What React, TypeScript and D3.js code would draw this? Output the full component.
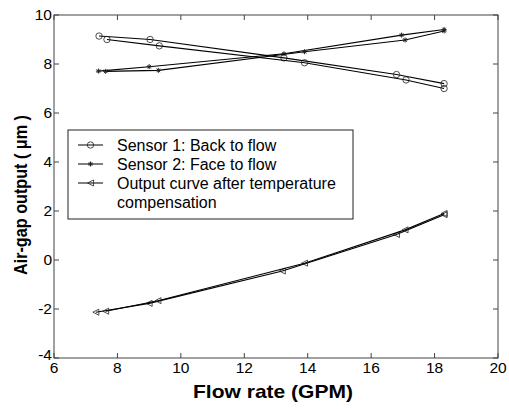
import React from "react";
import * as d3 from "d3";

const xTicks = [6, 8, 10, 12, 14, 16, 18, 20];
const yTicks = [-4, -2, 0, 2, 4, 6, 8, 10];

// Sensor 1 (circles), two runs
const s1aX = [7.42, 9.03, 13.25, 16.8, 18.3];
const s1aY = [9.14, 9.0, 8.25, 7.57, 7.2];
const s1bX = [7.67, 9.32, 13.9, 17.1, 18.3];
const s1bY = [9.0, 8.74, 8.05, 7.35, 7.0];

// Sensor 2 (stars), two runs
const s2aX = [7.4, 9.0, 13.25, 16.96, 18.3];
const s2aY = [7.71, 7.89, 8.42, 9.18, 9.41];
const s2bX = [7.63, 9.29, 13.9, 17.07, 18.3];
const s2bY = [7.7, 7.74, 8.5, 8.98, 9.35];

// Compensated output (triangles), two runs
const cAX = [7.32, 9.0, 13.2, 16.8, 18.3];
const cAY = [-2.13, -1.77, -0.45, 1.04, 1.85];
const cBX = [7.63, 9.28, 13.9, 17.07, 18.3];
const cBY = [-2.09, -1.66, -0.13, 1.23, 1.9];

const legendLabels = [
  "Sensor 1: Back to flow",
  "Sensor 2: Face to flow",
  "Output curve after temperature",
  "compensation",
];

const W = 509;
const H = 409;
const L = 54, R = 498, T = 15, B = 358;

const x = d3.scaleLinear().domain([6, 20]).range([L, R]);
const y = d3.scaleLinear().domain([-4, 10]).range([B, T]);

type Kind = "circle" | "star" | "tri";

function Marker({ cx, cy, kind }: { cx: number; cy: number; kind: Kind }) {
  const st = { stroke: "#222", strokeWidth: 0.8, fill: "none" };
  if (kind === "circle") return <circle cx={cx} cy={cy} r={3.2} {...st} />;
  if (kind === "star") {
    const r = 2.5;
    return (
      <g {...st} strokeWidth={1}>
        <line x1={cx - r} y1={cy} x2={cx + r} y2={cy} />
        <line x1={cx} y1={cy - r} x2={cx} y2={cy + r} />
        <line x1={cx - r * 0.7} y1={cy - r * 0.7} x2={cx + r * 0.7} y2={cy + r * 0.7} />
        <line x1={cx - r * 0.7} y1={cy + r * 0.7} x2={cx + r * 0.7} y2={cy - r * 0.7} />
      </g>
    );
  }
  const s = 3;
  return <path d={`M${cx - s},${cy}L${cx + s},${cy - s}L${cx + s},${cy + s}Z`} {...st} />;
}

function Series({ xs, ys, kind }: { xs: number[]; ys: number[]; kind: Kind }) {
  const pts: [number, number][] = xs.map((v, i) => [x(v), y(ys[i])]);
  const line = d3.line();
  return (
    <g>
      <path d={line(pts) || ""} fill="none" stroke="#000" strokeWidth={1.1} />
      {pts.map((p, i) => (
        <Marker key={i} cx={p[0]} cy={p[1]} kind={kind} />
      ))}
    </g>
  );
}

export default function App() {
  const font = "Arial, 'Liberation Sans', sans-serif";
  const tl = 5;
  const legendKinds: (Kind | null)[] = ["circle", "star", "tri", null];
  return (
    <svg width={W} height={H} style={{ position: "absolute", left: 0, top: 0, background: "#fff" }}>
      <rect x={0} y={0} width={W} height={H} fill="#fff" />
      {/* frame */}
      <rect x={L} y={T} width={R - L} height={B - T} fill="none" stroke="#444" strokeWidth={1} />
      {xTicks.map((t) => (
        <g key={"x" + t}>
          <line x1={x(t)} x2={x(t)} y1={B} y2={B - tl} stroke="#444" />
          <line x1={x(t)} x2={x(t)} y1={T} y2={T + tl} stroke="#444" />
          <text x={x(t)} y={373} textAnchor="middle" fontFamily={font} fontSize={15.5}>{t}</text>
        </g>
      ))}
      {yTicks.map((t) => (
        <g key={"y" + t}>
          <line x1={L} x2={L + tl} y1={y(t)} y2={y(t)} stroke="#444" />
          <line x1={R} x2={R - tl} y1={y(t)} y2={y(t)} stroke="#444" />
          <text x={L - 2} y={y(t) + (t === -4 ? 2 : 5)} textAnchor="end" fontFamily={font} fontSize={15.5}>{t}</text>
        </g>
      ))}
      <Series xs={s1aX} ys={s1aY} kind="circle" />
      <Series xs={s1bX} ys={s1bY} kind="circle" />
      <Series xs={s2aX} ys={s2aY} kind="star" />
      <Series xs={s2bX} ys={s2bY} kind="star" />
      <Series xs={cAX} ys={cAY} kind="tri" />
      <Series xs={cBX} ys={cBY} kind="tri" />
      {/* legend */}
      <rect x={68} y={130} width={285} height={89} fill="#fff" stroke="#222" strokeWidth={1} />
      {legendLabels.map((lab, i) => {
        const yy = 145 + i * 19;
        const k = legendKinds[i];
        return (
          <g key={lab}>
            {k && <line x1={78} x2={103} y1={yy} y2={yy} stroke="#000" />}
            {k && <Marker cx={90.5} cy={yy} kind={k} />}
            <text x={117} y={yy + 5.5} fontFamily={font} fontSize={16}>{lab}</text>
          </g>
        );
      })}
      <text x={273} y={398} textAnchor="middle" fontFamily={font} fontSize={19} fontWeight="bold"
        textLength={160} lengthAdjust="spacingAndGlyphs">Flow rate (GPM)</text>
      <text transform="translate(27,195) rotate(-90)" textAnchor="middle" fontFamily={font} fontSize={18} fontWeight="bold"
        textLength={160} lengthAdjust="spacingAndGlyphs">Air-gap output ( μm )</text>
    </svg>
  );
}
